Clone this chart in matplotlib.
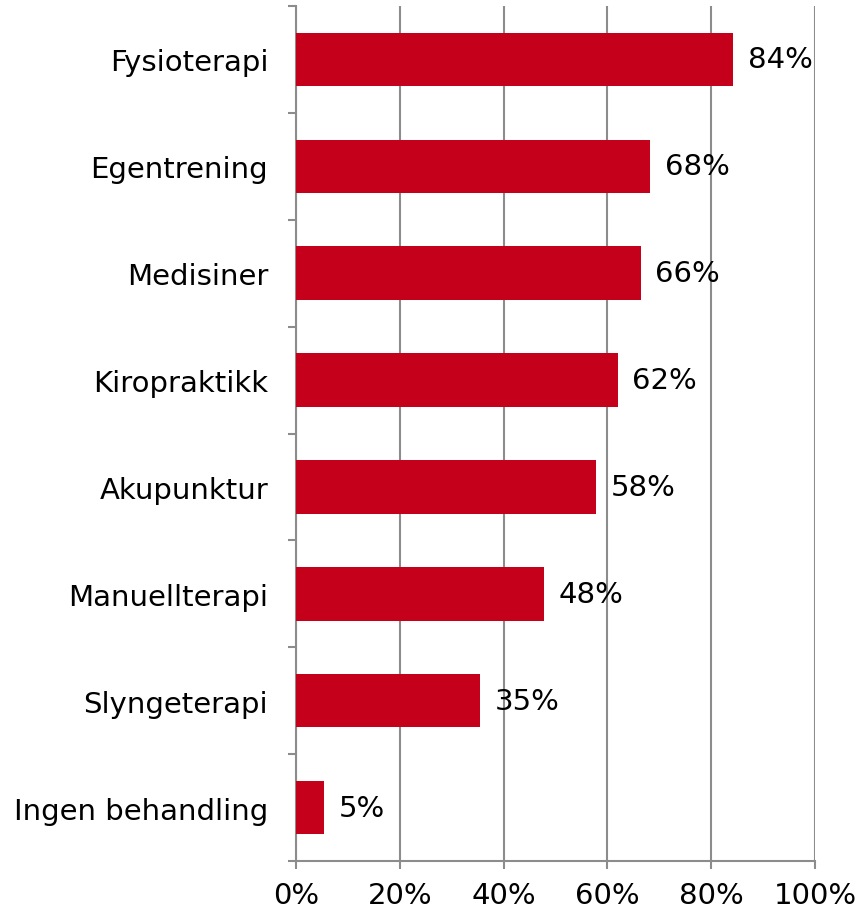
import matplotlib
matplotlib.use("Agg")
import matplotlib.pyplot as plt
import numpy as np

# data (top to bottom as in the picture)
kategorier = ["Fysioterapi", "Egentrening", "Medisiner", "Kiropraktikk",
              "Akupunktur", "Manuellterapi", "Slyngeterapi", "Ingen behandling"]
verdier = [84.2, 68.2, 66.4, 62.0, 57.8, 47.8, 35.4, 5.4]
etiketter = ["84%", "68%", "66%", "62%", "58%", "48%", "35%", "5%"]
xticks = [0, 20, 40, 60, 80, 100]

rod = "#C5001A"
gra = "#8C8C8C"
fs = 21

plt.rcParams["font.family"] = ["DejaVu Sans"]

fig = plt.figure(figsize=(8.56, 9.12), dpi=100)
ax = fig.add_axes([296/856, 50/912, (815-296)/856, (862-7)/912])

n = len(kategorier)
y = np.arange(n)[::-1]
ax.barh(y, verdier, height=0.5, color=rod, zorder=3)

# verdietiketter
for yi, v, lab in zip(y, verdier, etiketter):
    ax.annotate(lab, (v, yi), xytext=(10.5, 0), textcoords="offset points",
                ha="left", va="center", fontsize=fs, color="black", zorder=4)

ax.set_xlim(0, 100)
ax.set_ylim(-0.5, n - 0.5)
ax.set_xticks(xticks)
ax.set_xticklabels([f"{t}%" for t in xticks], fontsize=fs)

# kategori-etiketter mellom tikkene
ax.set_yticks(y)
ax.set_yticklabels(kategorier, fontsize=fs)
ax.tick_params(axis="y", length=0, pad=20)
ax.set_yticks(np.arange(-0.5, n, 1.0), minor=True)
ax.tick_params(axis="y", which="minor", length=5.5, width=1.5, color=gra, direction="out")
ax.tick_params(axis="x", length=5.5, width=1.5, color=gra, pad=9)

ax.grid(axis="x", color=gra, linewidth=1.5, zorder=0)
ax.set_axisbelow(True)
for s in ["top", "right"]:
    ax.spines[s].set_visible(False)
for s in ["left", "bottom"]:
    ax.spines[s].set_color(gra)
    ax.spines[s].set_linewidth(1.5)

fig.savefig("out.png", dpi=100)
